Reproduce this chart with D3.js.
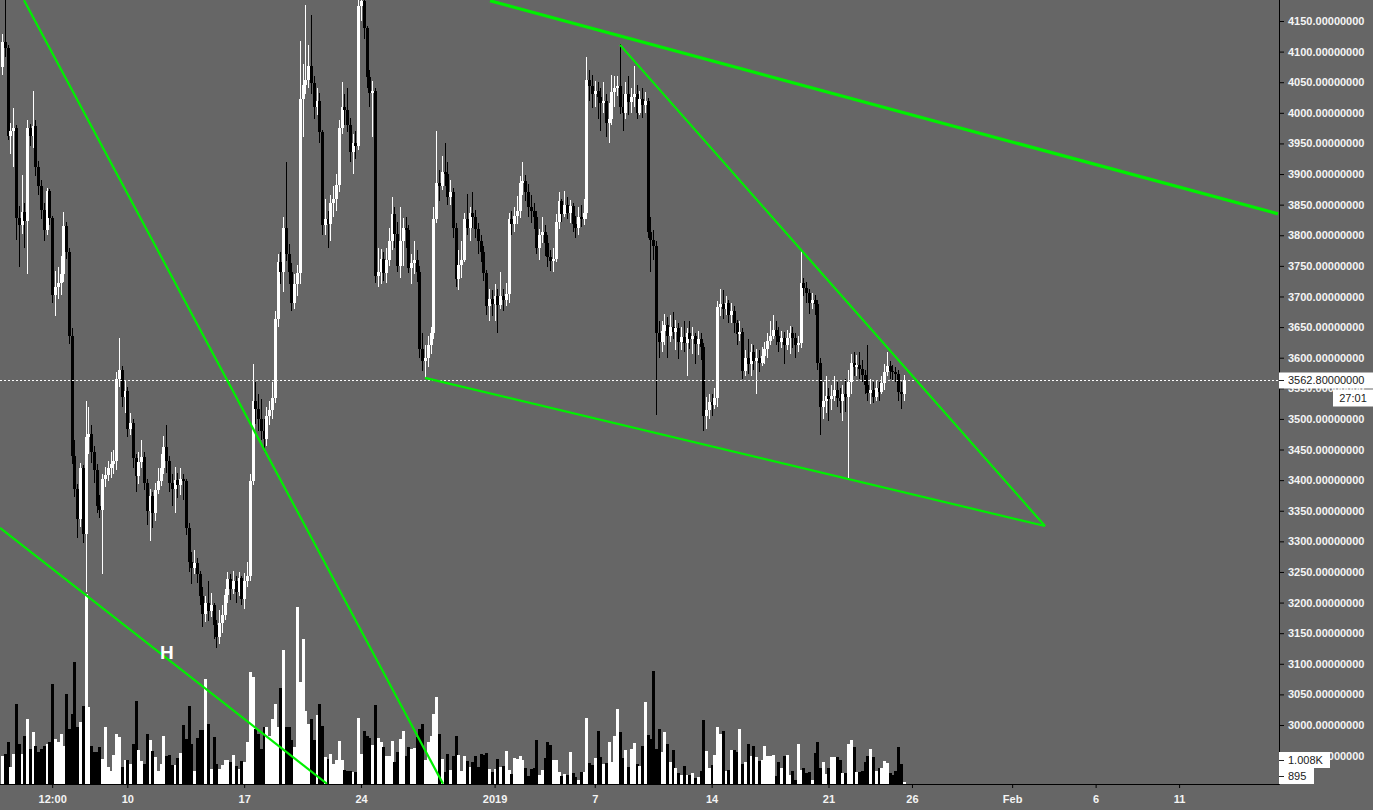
<!DOCTYPE html>
<html><head><meta charset="utf-8">
<script src="https://cdn.jsdelivr.net/npm/d3@7"></script>
<style>
html,body{margin:0;padding:0;background:#666666;overflow:hidden}
svg{display:block}
text{font-family:"Liberation Sans",Arial,sans-serif}
</style></head><body>
<svg id="chart" width="1373" height="810"></svg>
<script>
// ---- data (4h bars, BTC/USD) ----
const firstBarTime = "2018-12-02T12:00:00Z";
const barHours = 4;
const firstOpen = 4075;
const closes = [
4115,4106,3962,
3970,3976,3828,3816,3838,3824,
3975,3962,3978,3912,3880,3842,
3808,3872,3828,3702,3716,3722,
3736,3815,3772,3636,3440,3386,
3336,3420,3312,3470,3476,3446,
3416,3358,3352,3402,3408,3420,
3426,3432,3566,3580,3536,3546,
3484,3494,3436,3406,3430,3438,
3396,3350,3374,3346,3384,3398,
3420,3454,3432,3396,3386,3400,
3392,3402,3398,3322,3266,3256,
3264,3246,3210,3182,3200,3186,
3196,3164,3144,3166,3180,3212,
3238,3222,3236,3218,3240,3206,
3236,3244,3398,3530,3516,3500,
3480,3468,3504,3514,3534,3664,
3756,3740,3812,3770,3740,3690,
3720,3738,4022,4046,4054,4076,
4048,4010,4020,3968,3816,3826,
3818,3852,3860,3882,3976,4010,
4004,3980,3936,3950,3946,4174,
4182,4138,4058,4032,4036,3734,
3740,3762,3738,3760,3790,3834,
3802,3750,3790,3812,3808,3746,
3754,3760,3740,3614,3594,3600,
3620,3640,3826,3886,3880,3904,
3900,3862,3870,3812,3728,3752,
3760,3826,3812,3836,3830,3810,
3790,3772,3738,3684,3696,3688,
3700,3686,3700,3694,3704,3826,
3818,3832,3840,3886,3888,3870,
3846,3840,3830,3780,3800,3806,
3788,3764,3758,3762,3822,3856,
3834,3850,3836,3848,3818,3812,
3830,3826,3836,4054,4044,4030,
4036,4026,4016,4020,3984,3990,
4034,4040,4044,4010,4000,4030,
4018,4026,4030,4000,4022,4012,
4020,3806,3792,3782,3640,3626,
3644,3654,3636,3650,3642,3648,
3626,3634,3624,3640,3630,3636,
3622,3630,3618,3504,3514,3528,
3522,3534,3682,3688,3680,3690,
3670,3676,3656,3638,3642,3578,
3600,3590,3610,3594,3600,3592,
3602,3614,3628,3636,3646,3636,
3626,3632,3620,3632,3640,3632,
3620,3624,3722,3714,3706,3690,
3694,3688,3592,3520,3530,3538,
3532,3538,3548,3534,3530,3540,
3536,3560,3592,3584,3588,3582,
3572,3556,3542,3548,3536,3550,
3544,3558,3576,3586,3578,3576,
3574,3544,3540,3563];
const highs = [
4128,4188,4110,
3984,4008,3980,3848,3898,3852,
3988,3982,4036,3988,3922,3890,
3852,3878,3876,3832,3742,3748,
3766,3838,3822,3780,3648,3466,
3394,3428,3424,3530,3520,3490,
3456,3426,3376,3410,3422,3432,
3446,3450,3576,3632,3586,3562,
3552,3510,3500,3442,3446,3466,
3446,3402,3386,3380,3396,3420,
3442,3472,3490,3440,3410,3422,
3412,3420,3410,3402,3330,3282,
3286,3272,3252,3226,3210,3236,
3216,3200,3172,3188,3196,3222,
3250,3246,3252,3244,3250,3244,
3248,3266,3410,3590,3560,3540,
3532,3500,3520,3530,3560,3676,
3770,3772,3830,3920,3786,3754,
3736,3752,4118,4080,4176,4110,
4160,4060,4040,4032,3972,3860,
3840,3866,3880,3900,3988,4050,
4030,4040,3992,3966,3970,4184,
4186,4186,4142,4070,4052,4040,
3780,3778,3772,3780,3812,3862,
3846,3822,3846,3828,3830,3816,
3770,3790,3776,3750,3640,3620,
3636,3650,3846,3970,3906,3930,
3950,3920,3890,3878,3820,3776,
3790,3836,3868,3846,3870,3842,
3820,3800,3782,3744,3712,3710,
3720,3712,3740,3712,3722,3836,
3840,3846,3864,3896,3920,3898,
3884,3866,3852,3840,3810,3830,
3816,3800,3776,3780,3834,3870,
3860,3872,3862,3858,3852,3832,
3846,3850,3860,4092,4070,4062,
4052,4050,4040,4050,4030,4016,
4062,4060,4060,4112,4030,4050,
4060,4040,4076,4046,4036,4040,
4034,4024,3830,3808,3790,3660,
3660,3672,3666,3670,3674,3662,
3656,3650,3660,3648,3660,3650,
3640,3644,3640,3624,3536,3540,
3540,3550,3692,3712,3710,3700,
3694,3690,3684,3662,3660,3648,
3612,3630,3622,3620,3614,3612,
3618,3626,3640,3660,3670,3660,
3650,3644,3642,3646,3652,3650,
3640,3636,3774,3730,3724,3712,
3706,3702,3694,3600,3560,3570,
3550,3556,3570,3560,3550,3556,
3566,3580,3606,3610,3604,3610,
3596,3580,3620,3566,3560,3562,
3560,3570,3590,3610,3594,3588,
3584,3580,3560,3572];
const lows = [
4062,4092,3955,
3932,3912,3792,3748,3802,3780,
3736,3946,3942,3896,3866,3826,
3790,3800,3816,3690,3668,3696,
3702,3724,3762,3622,3426,3372,
3306,3324,3298,3218,3442,3428,
3396,3346,3338,3246,3388,3398,
3404,3410,3416,3552,3520,3510,
3470,3474,3420,3380,3394,3420,
3384,3326,3300,3322,3334,3378,
3390,3410,3412,3380,3358,3346,
3370,3376,3368,3310,3250,3230,
3246,3232,3196,3160,3168,3170,
3176,3140,3126,3132,3150,3172,
3200,3204,3214,3200,3210,3196,
3190,3226,3236,3392,3492,3480,
3466,3446,3456,3490,3500,3526,
3650,3720,3708,3758,3720,3676,
3680,3700,3720,3960,4030,4040,
4030,3990,3996,3950,3800,3800,
3780,3790,3830,3840,3870,3966,
3980,3968,3920,3900,3924,3940,
4150,4120,4040,4010,3960,3722,
3716,3720,3726,3722,3750,3776,
3780,3740,3730,3750,3780,3738,
3720,3736,3724,3600,3578,3567,
3584,3606,3630,3820,3856,3874,
3880,3850,3850,3796,3716,3710,
3730,3756,3800,3790,3812,3796,
3770,3756,3726,3670,3660,3668,
3660,3640,3680,3676,3684,3690,
3800,3806,3818,3828,3866,3856,
3830,3820,3810,3770,3760,3788,
3766,3748,3742,3740,3756,3810,
3822,3830,3826,3820,3806,3796,
3800,3814,3816,3826,4020,4008,
4010,3990,3970,4000,3960,3950,
3980,4010,4028,3998,3970,3990,
3996,4000,4010,3990,3996,3992,
4000,3796,3740,3760,3506,3600,
3610,3620,3600,3626,3630,3612,
3598,3612,3610,3570,3614,3606,
3590,3604,3596,3480,3484,3500,
3504,3516,3520,3668,3664,3670,
3656,3656,3640,3620,3628,3566,
3570,3574,3570,3580,3540,3576,
3586,3590,3600,3620,3630,3620,
3610,3616,3590,3612,3606,3616,
3600,3610,3616,3700,3690,3672,
3680,3670,3580,3474,3500,3510,
3496,3514,3530,3520,3510,3496,
3512,3404,3540,3570,3570,3566,
3560,3540,3530,3524,3526,3530,
3530,3540,3548,3570,3566,3562,
3560,3530,3516,3530];
const volumes = [
28,30,42,
17,30,80,40,30,48,
65,35,52,38,32,35,
38,40,42,100,45,42,
50,38,90,55,70,122,
57,62,78,190,77,38,
32,32,37,25,57,17,
13,29,50,47,17,24,
24,20,40,83,34,23,
20,50,44,33,27,13,
20,48,28,29,19,19,
26,31,59,45,78,40,
13,46,54,54,105,60,
15,47,20,15,19,24,
24,22,29,18,15,23,
22,42,112,107,55,50,
35,57,57,48,65,80,
57,96,134,57,57,44,
37,177,102,145,73,60,
65,44,69,80,58,27,
25,30,20,24,43,24,
14,13,13,12,12,66,
30,53,48,46,39,79,
46,42,37,28,28,43,
22,32,45,53,28,37,
35,36,47,55,60,24,
42,48,70,87,50,25,
12,30,14,28,48,29,
13,28,23,17,22,28,
17,30,29,31,15,12,
15,25,17,18,33,14,
10,26,25,28,24,16,
8,15,16,44,9,14,
26,42,39,24,24,12,
8,10,9,32,11,7,
4,12,12,66,21,19,
26,53,27,20,21,42,
22,48,75,52,26,34,
17,35,41,20,18,38,
82,49,45,113,35,55,
32,52,40,22,34,16,
11,9,18,9,9,11,
6,7,13,64,33,16,
19,29,57,50,53,13,
14,34,34,32,55,20,
22,40,28,38,27,23,
24,38,28,28,29,8,
22,16,28,29,9,13,
4,40,14,16,11,12,
4,31,42,16,22,10,
16,27,27,27,24,11,
11,40,44,37,12,12,
13,22,28,35,27,13,
16,16,23,21,11,9,
13,37,20,2];

const priceTicks = d3.range(2950, 4151, 50);
const timeTickDates = ["2018-12-05T12:00:00Z","2018-12-10T00:00:00Z","2018-12-17T00:00:00Z","2018-12-24T00:00:00Z","2019-01-01T00:00:00Z","2019-01-07T00:00:00Z","2019-01-14T00:00:00Z","2019-01-21T00:00:00Z","2019-01-26T00:00:00Z","2019-02-01T00:00:00Z","2019-02-06T00:00:00Z","2019-02-11T00:00:00Z"];
const timeTickLabels = ["12:00","10","17","24","2019","7","14","21","26","Feb","6","11"];

// trend line drawings: [time, price] anchors
const lineStarts = [["2018-12-31T17:24:00Z",4183],["2019-01-08T12:15:00Z",4111],["2018-12-27T20:00:00Z",3567],["2018-12-03T19:30:00Z",4184],["2018-12-02T09:00:00Z",3322]];
const lineEnds   = [["2019-02-16T22:10:00Z",3835],["2019-02-02T23:15:00Z",3325],["2019-02-02T23:15:00Z",3325],["2018-12-28T21:50:00Z",2904],["2018-12-21T23:05:00Z",2904]];
const lineWidths = [3.2,2.2,2.2,2.2,2.2];

const lastPrice = 3562.8;
const countdown = "27:01";
const volumeLabels = ["1.008K","895"];
const markerText = "H", markerTime = "2018-12-12T09:00:00Z", markerPrice = 3119;

// ---- layout ----
const W = 1373, H = 810, plotR = 1279, plotB = 784;
const svg = d3.select("#chart");
svg.append("rect").attr("width", W).attr("height", H).attr("fill", "#666666");

const x = d3.scaleUtc()
  .domain([new Date("2018-12-02T09:00:00Z"), new Date("2019-02-16T23:37:00Z")])
  .range([0, plotR]);
const y = d3.scaleLinear().domain([3000, 4150]).range([725, 21]);
const yv = d3.scaleLinear().domain([0, 200]).range([plotB, plotB - 200]);

const t0 = new Date(firstBarTime).getTime();
const bars = closes.map((c, i) => ({
  t: new Date(t0 + i * barHours * 3600e3),
  o: i ? closes[i - 1] : firstOpen,
  h: highs[i], l: lows[i], c, v: volumes[i]
}));

svg.append("defs").append("clipPath").attr("id", "plot")
  .append("rect").attr("x", 0).attr("y", 0).attr("width", plotR).attr("height", plotB);
const plot = svg.append("g").attr("clip-path", "url(#plot)");

const col = d => d.c >= d.o ? "#ffffff" : "#000000";

// volume
plot.append("g").attr("shape-rendering", "crispEdges").selectAll("rect").data(bars).join("rect")
  .attr("x", d => Math.round(x(d.t)) - 1)
  .attr("width", 3)
  .attr("y", d => yv(d.v))
  .attr("height", d => plotB - yv(d.v))
  .attr("fill", col);

// candles
const cg = plot.append("g").attr("shape-rendering", "crispEdges");
cg.selectAll("line").data(bars).join("line")
  .attr("x1", d => Math.round(x(d.t)) + 0.5).attr("x2", d => Math.round(x(d.t)) + 0.5)
  .attr("y1", d => y(d.h)).attr("y2", d => y(d.l))
  .attr("stroke", col).attr("stroke-width", 1);
cg.selectAll("rect").data(bars).join("rect")
  .attr("x", d => Math.round(x(d.t)) - 1)
  .attr("width", 3)
  .attr("y", d => y(Math.max(d.o, d.c)))
  .attr("height", d => Math.max(1, Math.abs(y(d.o) - y(d.c))))
  .attr("fill", col);

// last price dashed line
plot.append("line")
  .attr("x1", 0).attr("x2", plotR)
  .attr("y1", Math.round(y(lastPrice)) + 0.5).attr("y2", Math.round(y(lastPrice)) + 0.5)
  .attr("stroke", "#ffffff").attr("stroke-width", 1).attr("stroke-dasharray", "2,2");

// trend lines
plot.append("g").selectAll("line").data(lineStarts).join("line")
  .attr("x1", d => x(new Date(d[0]))).attr("y1", d => y(d[1]))
  .attr("x2", (d, i) => x(new Date(lineEnds[i][0]))).attr("y2", (d, i) => y(lineEnds[i][1]))
  .attr("stroke", "#00f000").attr("stroke-width", (d, i) => lineWidths[i]);

// marker
plot.append("text").attr("x", x(new Date(markerTime))).attr("y", y(markerPrice))
  .attr("text-anchor", "middle").attr("dominant-baseline", "central")
  .attr("fill", "#ffffff").attr("font-size", 19).attr("font-weight", "bold").text(markerText);

// right axis
const ya = svg.append("g").attr("transform", `translate(${plotR},0)`)
  .call(d3.axisRight(y).tickValues(priceTicks).tickSize(5).tickPadding(4).tickFormat(d => d.toFixed(8)));
ya.select(".domain").remove();
ya.selectAll(".tick line").attr("stroke", "#000");
ya.selectAll(".tick text").attr("fill", "#f4f4f4").attr("font-size", 11).attr("font-weight", "bold")
  .attr("font-family", "'Liberation Sans',Arial,sans-serif");

// bottom axis
const xa = svg.append("g").attr("transform", `translate(0,${plotB})`)
  .call(d3.axisBottom(x).tickValues(timeTickDates.map(s => new Date(s))).tickSize(4).tickPadding(7)
    .tickFormat((d, i) => timeTickLabels[i]));
xa.select(".domain").remove();
xa.selectAll(".tick line").attr("stroke", "#000");
xa.selectAll(".tick text").attr("fill", "#f4f4f4").attr("font-size", 11).attr("font-weight", "bold")
  .attr("font-family", "'Liberation Sans',Arial,sans-serif");

// axis lines
svg.append("line").attr("x1", plotR + 0.5).attr("x2", plotR + 0.5).attr("y1", 0).attr("y2", plotB + 0.5)
  .attr("stroke", "#000").attr("stroke-width", 1);
svg.append("line").attr("x1", 0).attr("x2", plotR + 0.5).attr("y1", plotB + 0.5).attr("y2", plotB + 0.5)
  .attr("stroke", "#000").attr("stroke-width", 1);

// last price label + countdown
const yp = Math.round(y(lastPrice)) + 0.5;
svg.append("rect").attr("x", plotR + 1).attr("y", yp + 11.5).attr("width", 53).attr("height", 17).attr("fill", "#666666");
svg.append("rect").attr("x", plotR).attr("y", yp - 8).attr("width", W - plotR).attr("height", 16).attr("fill", "#ffffff");
svg.append("line").attr("x1", plotR).attr("x2", plotR + 5).attr("y1", yp).attr("y2", yp).attr("stroke", "#222");
svg.append("text").attr("x", plotR + 9).attr("y", yp).attr("dy", "0.35em").attr("font-size", 11)
  .attr("fill", "#1a1a1a").text(lastPrice.toFixed(8));
svg.append("rect").attr("x", 1333).attr("y", yp + 9).attr("width", W - 1333).attr("height", 17).attr("fill", "#ffffff");
svg.append("text").attr("x", 1353).attr("y", yp + 17.5).attr("dy", "0.35em").attr("text-anchor", "middle")
  .attr("font-size", 11).attr("fill", "#1a1a1a").text(countdown);

// volume labels
const vBoxW = [51, 35];
volumeLabels.forEach((s, i) => {
  const top = plotB - 32 + i * 16;
  svg.append("rect").attr("x", plotR).attr("y", top).attr("width", vBoxW[i]).attr("height", 16).attr("fill", "#ffffff");
  svg.append("line").attr("x1", plotR).attr("x2", plotR + 5).attr("y1", top + 8.5).attr("y2", top + 8.5).attr("stroke", "#222");
  svg.append("text").attr("x", plotR + 9).attr("y", top + 8.5).attr("dy", "0.35em").attr("font-size", 11)
    .attr("fill", "#1a1a1a").text(s);
});
</script>
</body></html>
